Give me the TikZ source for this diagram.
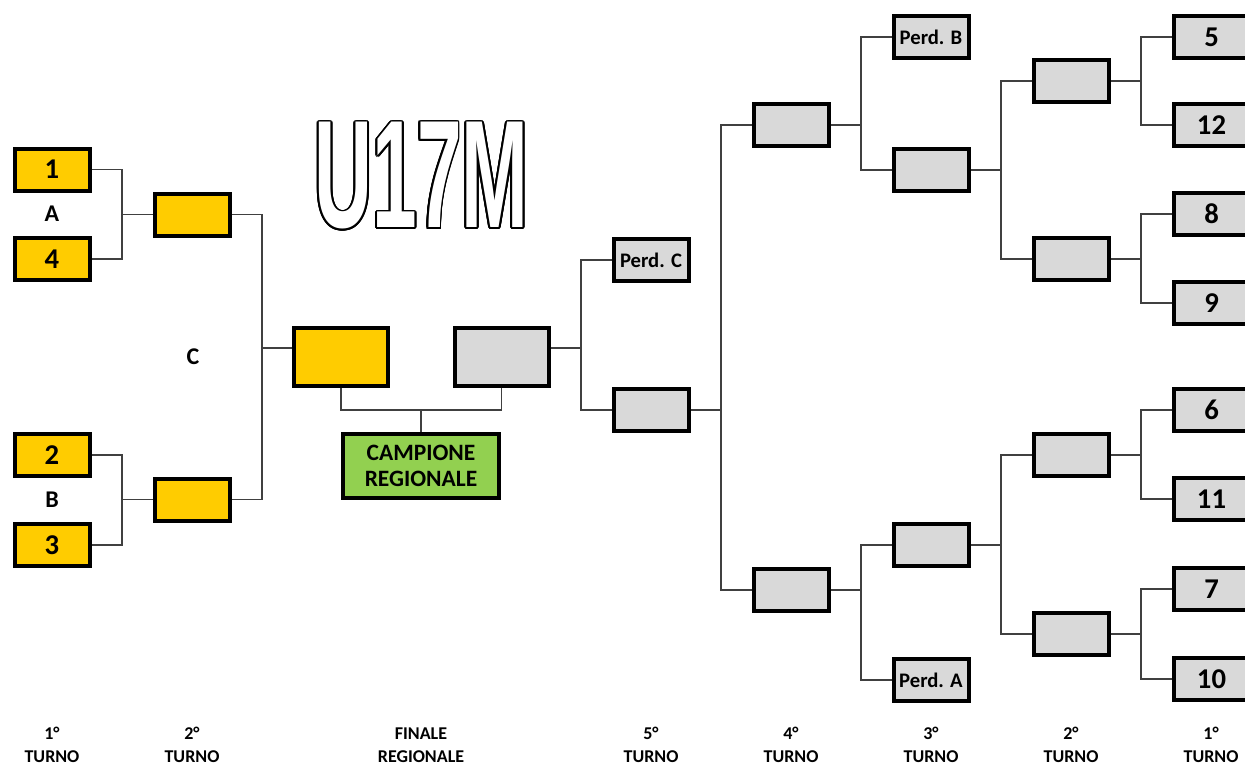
\documentclass[tikz,border=0pt]{standalone}
\usepackage{fontspec}
\setmainfont{Carlito}
\newfontfamily\titlefont{Liberation Sans}
\usetikzlibrary{calc}
\definecolor{yel}{HTML}{FFCC00}
\definecolor{gry}{HTML}{D9D9D9}
\definecolor{grn}{HTML}{92D050}
\definecolor{lin}{HTML}{404040}
\begin{document}
\begin{tikzpicture}[x=0.75pt,y=-0.75pt,
  box/.style={draw=black,line width=3pt,minimum width=56.25pt,minimum height=31.5pt,inner sep=0pt,
    font=\bfseries\fontsize{21.5}{24}\selectfont},
  ybox/.style={box,fill=yel},
  gbox/.style={box,fill=gry},
  perd/.style={gbox,font=\bfseries\fontsize{15.5}{18}\selectfont},
  bigbox/.style={draw=black,line width=3pt,minimum width=70.5pt,minimum height=43.5pt,inner sep=0pt},
  conn/.style={draw=lin,line width=0.9pt},
  lbl/.style={font=\bfseries\fontsize{18}{20}\selectfont},
  turno/.style={align=center,font=\bfseries\fontsize{13.5}{17.5}\selectfont},
  ttl/.style={inner sep=0pt,font=\titlefont\bfseries\fontsize{115}{115}\selectfont}
]
\useasboundingbox (0,0) rectangle (1245,767);
% title outline
\coordinate (T) at (421.5,176);
\foreach \a [count=\i] in {0,22.5,...,337.5}
  \node[ttl,text=black] (tc\i) at ($(T)+(\a:1.8)$) {\scalebox{0.523}[1]{U17M}};
\node[ttl,text=white] (title) at (T) {\scalebox{0.523}[1]{U17M}};

% left side
\node[ybox] (l1) at (52,169.5) {1};
\node[ybox] (l4) at (52,259) {4};
\node[ybox] (l2) at (52,455) {2};
\node[ybox] (l3) at (52,545) {3};
\node[ybox] (L2a) at (192,214.5) {};
\node[ybox] (L2b) at (192,499.5) {};
\node[lbl] (lA) at (52,214) {A};
\node[lbl] (lB) at (52,500) {B};
\node[lbl] (lC) at (193,357) {C};

% finals
\node[bigbox,fill=yel] (FY) at (341,357) {};
\node[bigbox,fill=gry] (FG) at (501.5,357) {};
\node[draw=black,line width=3pt,fill=grn,minimum width=117pt,minimum height=48pt,inner sep=0pt,
  align=center,font=\bfseries\fontsize{17.6}{19.5}\selectfont] (CR) at (421,466) {CAMPIONE\\REGIONALE};

% right side
\node[perd] (R5a) at (651,260) {Perd. C};
\node[gbox] (R5b) at (651,410) {};
\node[gbox] (R4a) at (791,125) {};
\node[gbox] (R4b) at (791,590) {};
\node[perd] (R3a) at (931,37) {Perd. B};
\node[gbox] (R3b) at (931,170) {};
\node[gbox] (R3c) at (931,545) {};
\node[perd] (R3d) at (931,680) {Perd. A};
\node[gbox] (R2a) at (1071,81) {};
\node[gbox] (R2b) at (1071,259) {};
\node[gbox] (R2c) at (1071,455) {};
\node[gbox] (R2d) at (1071,634) {};
\node[gbox] (R1a) at (1211.5,37) {5};
\node[gbox] (R1b) at (1211.5,125) {12};
\node[gbox] (R1c) at (1211.5,214) {8};
\node[gbox] (R1d) at (1211.5,303) {9};
\node[gbox] (R1e) at (1211.5,410) {6};
\node[gbox] (R1f) at (1211.5,499) {11};
\node[gbox] (R1g) at (1211.5,589) {7};
\node[gbox] (R1h) at (1211.5,679) {10};

% bracket x positions
\coordinate (xa) at (122,0);
\coordinate (xb) at (262,0);
\coordinate (xc) at (581,0);
\coordinate (xd) at (721,0);
\coordinate (xe) at (861,0);
\coordinate (xf) at (1001,0);
\coordinate (xg) at (1141,0);
\coordinate (hy) at (0,348);
\coordinate (cy) at (0,410);

% left connectors
\draw[conn] (l1.east) -- (l1.east -| xa) -- (l4.east -| xa) -- (l4.east);
\draw[conn] (xa |- L2a.west) -- (L2a.west);
\draw[conn] (l2.east) -- (l2.east -| xa) -- (l3.east -| xa) -- (l3.east);
\draw[conn] (xa |- L2b.west) -- (L2b.west);
\draw[conn] (L2a.east) -- (L2a.east -| xb) -- (L2b.east -| xb) -- (L2b.east);
\draw[conn] (xb |- hy) -- (FY.west |- hy);

% champion connector
\draw[conn] (FY.south) -- (FY.south |- cy) -- (FG.south |- cy) -- (FG.south);
\draw[conn] (CR.north |- cy) -- (CR.north);

% right connectors
\draw[conn] (FG.east |- hy) -- (xc |- hy);
\draw[conn] (R5a.west) -- (R5a.west -| xc) -- (R5b.west -| xc) -- (R5b.west);
\draw[conn] (R5b.east) -- (xd |- R5b.east);
\draw[conn] (R4a.west) -- (R4a.west -| xd) -- (R4b.west -| xd) -- (R4b.west);
\draw[conn] (R4a.east) -- (xe |- R4a.east);
\draw[conn] (R3a.west) -- (R3a.west -| xe) -- (R3b.west -| xe) -- (R3b.west);
\draw[conn] (R4b.east) -- (xe |- R4b.east);
\draw[conn] (R3c.west) -- (R3c.west -| xe) -- (R3d.west -| xe) -- (R3d.west);
\draw[conn] (R3b.east) -- (xf |- R3b.east);
\draw[conn] (R2a.west) -- (R2a.west -| xf) -- (R2b.west -| xf) -- (R2b.west);
\draw[conn] (R3c.east) -- (xf |- R3c.east);
\draw[conn] (R2c.west) -- (R2c.west -| xf) -- (R2d.west -| xf) -- (R2d.west);
\draw[conn] (R2a.east) -- (xg |- R2a.east);
\draw[conn] (R1a.west) -- (R1a.west -| xg) -- (R1b.west -| xg) -- (R1b.west);
\draw[conn] (R2b.east) -- (xg |- R2b.east);
\draw[conn] (R1c.west) -- (R1c.west -| xg) -- (R1d.west -| xg) -- (R1d.west);
\draw[conn] (R2c.east) -- (xg |- R2c.east);
\draw[conn] (R1e.west) -- (R1e.west -| xg) -- (R1f.west -| xg) -- (R1f.west);
\draw[conn] (R2d.east) -- (xg |- R2d.east);
\draw[conn] (R1g.west) -- (R1g.west -| xg) -- (R1h.west -| xg) -- (R1h.west);

% bottom labels
\node[turno] (t1) at (52,745) {1°\\TURNO};
\node[turno] (t2) at (192,745) {2°\\TURNO};
\node[turno] (t3) at (421,745) {FINALE\\REGIONALE};
\node[turno] (t4) at (651,745) {5°\\TURNO};
\node[turno] (t5) at (791,745) {4°\\TURNO};
\node[turno] (t6) at (931,745) {3°\\TURNO};
\node[turno] (t7) at (1071,745) {2°\\TURNO};
\node[turno] (t8) at (1211,745) {1°\\TURNO};
\end{tikzpicture}
\end{document}
